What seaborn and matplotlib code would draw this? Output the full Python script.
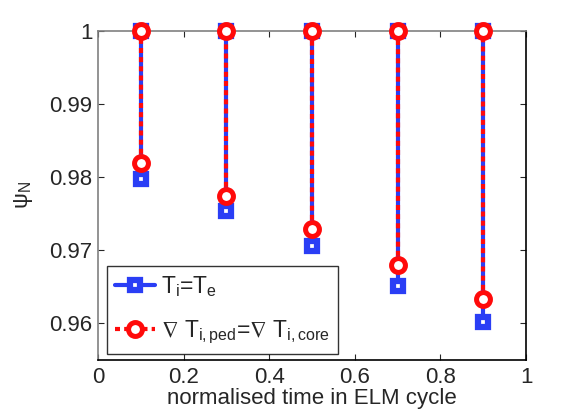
import numpy as np
import pandas as pd
import matplotlib
matplotlib.use("Agg")
import matplotlib.pyplot as plt
import seaborn as sns

# normalised time in ELM cycle
t = [0.1, 0.3, 0.5, 0.7, 0.9]
# lower end of each vertical segment (upper end is always 1)
psi_te = [0.9797, 0.9753, 0.9705, 0.9650, 0.9601]
psi_grad = [0.9819, 0.9774, 0.9729, 0.9679, 0.9633]
psi_top = [1.0, 1.0, 1.0, 1.0, 1.0]

labels = [r"$T_i$=$T_e$", r"$\nabla$ $T_{i,ped}$=$\nabla$ $T_{i,core}$"]
xticks = [0, 0.2, 0.4, 0.6, 0.8, 1]
xticklabels = ["0", "0.2", "0.4", "0.6", "0.8", "1"]
yticks = [0.96, 0.97, 0.98, 0.99, 1.0]
yticklabels = ["0.96", "0.97", "0.98", "0.99", "1"]


def make_df(bottom):
    return pd.DataFrame({"t": t + t, "psi": bottom + psi_top})


sns.set_style("ticks")
plt.rcParams["font.family"] = ["Liberation Sans", "DejaVu Sans"]
plt.rcParams["mathtext.fontset"] = "custom"
plt.rcParams["mathtext.rm"] = "Liberation Sans"
plt.rcParams["mathtext.it"] = "Liberation Sans"
plt.rcParams["mathtext.default"] = "regular"

fig = plt.figure(figsize=(5.81, 4.16), dpi=100)
ax = fig.add_axes([98 / 581, 1 - 360 / 416, 428 / 581, 329 / 416])

blue = "#2a3ef5"
red = "#ff0a0a"

sns.lineplot(data=make_df(psi_te), x="t", y="psi", units="t", estimator=None,
             color=blue, lw=3, marker="s", markersize=7.5, mew=4.5,
             mec=blue, mfc="white", ax=ax, clip_on=False)
n_blue = len(ax.lines)
sns.lineplot(data=make_df(psi_grad), x="t", y="psi", units="t", estimator=None,
             color=red, lw=3, linestyle=(0, (1.2, 1.0)), marker="o",
             markersize=10, mew=3.6, mec=red, mfc="white", ax=ax, clip_on=False)

for ln in ax.lines:
    ln.set_zorder(5 if ln.get_color() == red else 4)

ax.set_xlim(0, 1)
ax.set_ylim(0.95493, 1.0)
ax.set_xticks(xticks)
ax.set_xticklabels(xticklabels)
ax.set_yticks(yticks)
ax.set_yticklabels(yticklabels)
ax.tick_params(direction="in", length=4, width=0.8, labelsize=16,
               top=True, right=True)
ax.tick_params(axis="y", pad=4)
ax.tick_params(axis="x", pad=5)
for side in ["top", "right", "bottom", "left"]:
    ax.spines[side].set_visible(True)
    ax.spines[side].set_linewidth(1.2)
ax.spines["left"].set_color("#808080")
ax.spines["top"].set_color("#808080")
ax.spines["right"].set_color("black")
ax.spines["bottom"].set_color("black")

ax.set_xlabel("normalised time in ELM cycle", fontsize=16, labelpad=0)
ax.set_ylabel(r"$\psi_N$", fontsize=16, labelpad=10)

leg = ax.legend(handles=[ax.lines[0], ax.lines[n_blue]], labels=labels,
                loc="lower left", bbox_to_anchor=(0.021, 0.018),
                borderaxespad=0, fontsize=16.5, frameon=True, fancybox=False,
                handlelength=1.75, handletextpad=0.25, labelspacing=0.85,
                borderpad=0.35)
leg.get_frame().set_edgecolor("black")
leg.get_frame().set_linewidth(1.0)

fig.savefig("out.png", dpi=100)
